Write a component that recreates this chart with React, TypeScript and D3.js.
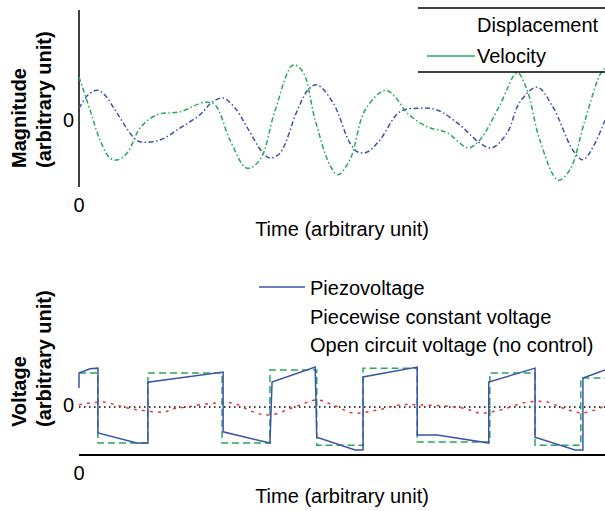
import * as d3 from "d3";

// top panel: displacement & velocity (time 0..100, magnitude)
const dispT = [0, 1.7, 3.4, 4.9, 7.2, 10.3, 11.6, 15.4, 19.2, 23.0, 25.3, 27.4, 29.7, 31.9, 35.0, 36.3, 38.2, 41.4, 43.5, 45.2, 48.3, 51.5, 53.0, 54.8, 57.2, 61.0, 64.8, 68.1, 72.4, 76.2, 78.5, 81.4, 83.8, 87.1, 90.1, 93.9, 95.8, 97.7, 100];
const dispV = [0.23, 0.45, 0.53, 0.45, 0.15, -0.25, -0.33, -0.3, -0.1, 0.12, 0.33, 0.4, 0.23, -0.08, -0.52, -0.6, -0.52, 0.17, 0.53, 0.62, 0.32, -0.35, -0.5, -0.5, -0.3, 0.17, 0.23, 0.2, -0.05, -0.35, -0.43, -0.18, 0.33, 0.58, 0.25, -0.47, -0.63, -0.42, 0.03];
const velT = [0, 2.1, 4.0, 5.9, 7.4, 9.3, 11.6, 14.8, 19.2, 24.0, 25.9, 28.7, 31.9, 34.4, 37.3, 40.7, 42.6, 44.9, 47.7, 49.2, 51.5, 54.4, 58.2, 60.1, 62.4, 66.2, 70.0, 74.0, 76.2, 80.0, 83.3, 85.2, 87.6, 91.1, 93.3, 96.2, 99.0, 100];
const velV = [0.75, 0.2, -0.3, -0.6, -0.63, -0.5, -0.1, 0.12, 0.17, 0.33, 0.28, -0.3, -0.77, -0.63, 0.2, 0.95, 0.83, 0.03, -0.72, -0.88, -0.63, 0.2, 0.53, 0.42, 0.15, -0.08, -0.18, -0.43, -0.3, 0.28, 0.82, 0.53, -0.3, -0.97, -0.8, 0.03, 0.78, 0.9];

// bottom panel: voltages
const piezoT = [0, 0, 2.1, 3.6, 3.6, 11.0, 13.1, 13.1, 27.4, 27.4, 36.3, 36.7, 44.9, 45.2, 52.5, 54.0, 54.0, 64.3, 64.3, 68.1, 77.9, 77.9, 86.7, 86.7, 94.3, 95.8, 95.8, 100];
const piezoV = [0.54, 0.97, 1.09, 1.11, -0.74, -1.03, -1.03, 0.71, 1.0, -0.71, -1.03, 0.71, 1.14, -0.86, -1.23, -1.23, 0.86, 1.14, -0.8, -0.8, -1.03, 0.71, 1.11, -0.86, -1.23, -1.23, 0.83, 1.06];
const constT = [0, 3.6, 3.6, 13.1, 13.1, 27.2, 27.2, 36.3, 36.3, 45.2, 45.2, 54.0, 54.0, 64.3, 64.3, 78.1, 78.1, 86.7, 86.7, 95.4, 95.4, 100];
const constV = [0.97, 0.97, -1.03, -1.03, 0.97, 0.97, -1.03, -1.03, 1.06, 1.06, -1.09, -1.09, 1.11, 1.11, -1.0, -1.0, 0.97, 0.97, -1.09, -1.09, 0.83, 0.83];
const openT = [0, 4.6, 8.4, 11.6, 16.3, 17.7, 20.5, 25.5, 29.3, 33.1, 36.3, 42.0, 45.2, 48.3, 52.1, 56.7, 61.0, 64.8, 73.0, 76.2, 80.0, 85.2, 89.0, 92.0, 95.8, 100];
const openV = [0.06, 0.14, 0, -0.09, -0.14, -0.06, 0, 0.11, 0.11, -0.14, -0.23, 0.06, 0.2, 0.06, -0.17, -0.09, 0.06, 0.06, -0.03, -0.17, -0.09, 0.14, 0.14, -0.03, -0.17, 0.03];

const topLegend = ["Displacement", "Velocity"];
const bottomLegend = ["Piezovoltage", "Piecewise constant voltage", "Open circuit voltage (no control)"];

const BLUE = "#3b54a8";
const GREEN = "#27a85c";
const RED = "#e8352f";
const FONT = "'Liberation Sans', Arial, sans-serif";

const zip = (t: number[], v: number[]) => t.map((d, i) => [d, v[i]] as [number, number]);

export default function App() {
  const width = 605;
  const height = 511;

  const x = d3.scaleLinear().domain([0, 100]).range([79, 605]);
  const yTop = d3.scaleLinear().domain([-1, 1]).range([182, 62]);
  const yBot = d3.scaleLinear().domain([-1, 1]).range([442, 372]);

  const smoothTop = d3
    .line<[number, number]>()
    .x((d) => x(d[0]))
    .y((d) => yTop(d[1]))
    .curve(d3.curveCatmullRom);
  // step-like signals: straight segments
  const straightBot = d3
    .line<[number, number]>()
    .x((d) => x(d[0]))
    .y((d) => yBot(d[1]));
  const smoothBot = d3
    .line<[number, number]>()
    .x((d) => x(d[0]))
    .y((d) => yBot(d[1]))
    .curve(d3.curveCatmullRom);

  const [x0, x1] = x.range();

  return (
    <div style={{ position: "absolute", left: 0, top: 0 }}>
      <svg width={width} height={height} style={{ display: "block", background: "#fff" }} fontFamily={FONT}>
        {/* ---------- top panel ---------- */}
        <line x1={x0} x2={x0} y1={10} y2={187} stroke="#000" strokeWidth={1.5} />
        <path d={smoothTop(zip(dispT, dispV)) as string} fill="none" stroke={BLUE} strokeWidth={1.5} strokeDasharray="5,2.5,1.5,2.5" />
        <path d={smoothTop(zip(velT, velV)) as string} fill="none" stroke={GREEN} strokeWidth={1.5} strokeDasharray="5,2.5,1.5,2.5" />

        <text x={74} y={yTop(0)} fontSize={20} textAnchor="end" dominantBaseline="middle">0</text>
        <text x={x0} y={212} fontSize={20} textAnchor="middle">0</text>
        <text x={(x0 + x1) / 2} y={236} fontSize={20} textAnchor="middle">Time (arbitrary unit)</text>
        <text transform="translate(25.5,168) rotate(-90)" fontSize={20} fontWeight="bold">Magnitude</text>
        <text transform="translate(51,168) rotate(-90)" fontSize={20} fontWeight="bold">(arbitrary unit)</text>

        {/* legend */}
        <line x1={418} x2={605} y1={8} y2={8} stroke="#000" strokeWidth={1.5} />
        <line x1={418} x2={605} y1={72} y2={72} stroke="#000" strokeWidth={1.5} />
        <line x1={427} x2={475} y1={56} y2={56} stroke={GREEN} strokeWidth={1.5} />
        {topLegend.map((s, i) => (
          <text key={s} x={477} y={32 + i * 31} fontSize={20}>{s}</text>
        ))}

        {/* ---------- bottom panel ---------- */}
        <line x1={x0} x2={x1} y1={yBot(0)} y2={yBot(0)} stroke="#000" strokeWidth={1.5} strokeDasharray="1.5,3.5" />
        <path d={smoothBot(zip(openT, openV)) as string} fill="none" stroke={RED} strokeWidth={1.5} strokeDasharray="3,5" />
        <path d={straightBot(zip(constT, constV)) as string} fill="none" stroke={GREEN} strokeWidth={1.5} strokeDasharray="7,4" />
        <path d={straightBot(zip(piezoT, piezoV)) as string} fill="none" stroke={BLUE} strokeWidth={1.5} />
        <line x1={x0} x2={x1} y1={455} y2={455} stroke="#000" strokeWidth={1.8} />

        <text x={74} y={yBot(0)} fontSize={20} textAnchor="end" dominantBaseline="middle">0</text>
        <text x={x0} y={480} fontSize={20} textAnchor="middle">0</text>
        <text x={(x0 + x1) / 2} y={503} fontSize={20} textAnchor="middle">Time (arbitrary unit)</text>
        <text transform="translate(25.5,427) rotate(-90)" fontSize={20} fontWeight="bold">Voltage</text>
        <text transform="translate(51,427) rotate(-90)" fontSize={20} fontWeight="bold">(arbitrary unit)</text>

        <line x1={259} x2={305} y1={287} y2={287} stroke={BLUE} strokeWidth={1.5} />
        {bottomLegend.map((s, i) => (
          <text key={s} x={310} y={295 + i * 28.5} fontSize={20}>{s}</text>
        ))}
      </svg>
    </div>
  );
}
